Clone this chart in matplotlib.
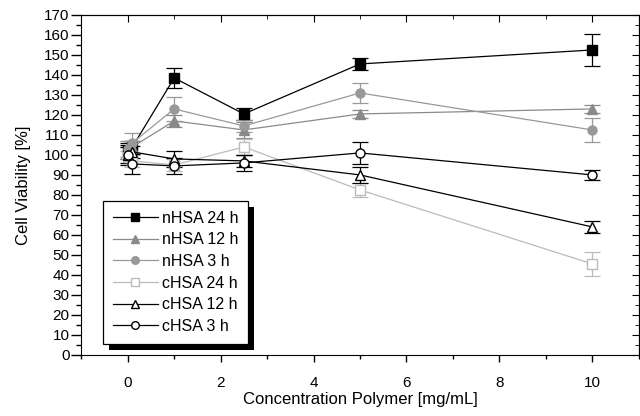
import matplotlib
matplotlib.use("Agg")
import matplotlib.pyplot as plt
from matplotlib.lines import Line2D
from matplotlib.patches import Rectangle
from matplotlib.ticker import MultipleLocator

plt.rcParams['font.family'] = ['Liberation Sans', 'DejaVu Sans']

conc = [0, 0.1, 1, 2.5, 5, 10]

nhsa_24 = [102, 104, 138.5, 120.5, 145.5, 152.5]
nhsa_24_err = [4, 3, 5, 3, 3, 8]
nhsa_12 = [101, 104, 117, 112.5, 120.5, 123]
nhsa_12_err = [3, 3, 3, 4, 2, 2]
nhsa_3 = [103, 106, 123, 114.5, 131, 112.5]
nhsa_3_err = [4, 5, 6, 3, 5, 6]
chsa_24 = [99, 97, 95, 104, 82.5, 45.5]
chsa_24_err = [3, 3, 3, 4, 3.5, 6]
chsa_12 = [100, 101.5, 98, 97, 90, 64]
chsa_12_err = [4, 3, 4, 3, 4, 3]
chsa_3 = [100, 95.5, 94.5, 96, 101, 90]
chsa_3_err = [5, 5, 4, 4, 5.5, 2.5]

series = [
    ('nHSA 24 h', nhsa_24, nhsa_24_err, 'black', 's', 'black'),
    ('nHSA 12 h', nhsa_12, nhsa_12_err, '#8a8a8a', '^', '#8a8a8a'),
    ('nHSA 3 h', nhsa_3, nhsa_3_err, '#999999', 'o', '#999999'),
    ('cHSA 24 h', chsa_24, chsa_24_err, '#bbbbbb', 's', 'white'),
    ('cHSA 12 h', chsa_12, chsa_12_err, 'black', '^', 'white'),
    ('cHSA 3 h', chsa_3, chsa_3_err, 'black', 'o', 'white'),
]

fig = plt.figure(figsize=(6.4, 4.16), dpi=100)
ax = fig.add_axes([0.127, 0.147, 0.871, 0.817])

handles = []
for label, y, err, color, marker, face in series:
    ax.errorbar(conc, y, yerr=err, color=color, marker=marker, markersize=6.5,
                markerfacecolor=face, markeredgecolor=color, linewidth=0.9,
                elinewidth=0.9, capsize=5.5, capthick=0.9)
    handles.append(Line2D([0], [0], color=color, marker=marker, markersize=5.5,
                          markerfacecolor=face, markeredgecolor=color,
                          linewidth=0.9, label=label))

ax.set_xlim(-1, 11)
ax.set_ylim(0, 170)
ax.xaxis.set_major_locator(MultipleLocator(2))
ax.xaxis.set_minor_locator(MultipleLocator(1))
ax.yaxis.set_major_locator(MultipleLocator(10))
ax.yaxis.set_minor_locator(MultipleLocator(5))

ax.tick_params(axis='x', which='both', direction='out', top=False, labelsize=11, pad=10)
ax.tick_params(axis='y', which='both', direction='out', right=False, labelsize=11, pad=1.5)
ax.tick_params(axis='x', which='major', length=5, width=1)
ax.tick_params(axis='x', which='minor', length=3, width=1)
ax.tick_params(axis='y', which='major', length=7, width=1)
ax.tick_params(axis='y', which='minor', length=3.5, width=1)

# inward ticks on the top and right spines
sec_x = ax.secondary_xaxis('top')
sec_x.xaxis.set_major_locator(MultipleLocator(2))
sec_x.xaxis.set_minor_locator(MultipleLocator(1))
sec_x.tick_params(which='both', direction='in', labeltop=False)
sec_x.tick_params(which='major', length=5)
sec_x.tick_params(which='minor', length=3)
sec_y = ax.secondary_yaxis('right')
sec_y.yaxis.set_major_locator(MultipleLocator(10))
sec_y.yaxis.set_minor_locator(MultipleLocator(5))
sec_y.tick_params(which='both', direction='in', labelright=False)
sec_y.tick_params(which='major', length=5)
sec_y.tick_params(which='minor', length=3)

ax.set_xlabel('Concentration Polymer [mg/mL]', fontsize=12, labelpad=2)
ax.set_ylabel('Cell Viability [%]', fontsize=12, labelpad=9)

leg = ax.legend(handles=handles, loc='lower left', bbox_to_anchor=(0.039, 0.032),
                borderaxespad=0, fancybox=False, frameon=True, edgecolor='black',
                framealpha=1, fontsize=11.5, handlelength=2.8, handletextpad=0.25,
                labelspacing=0.42, borderpad=0.62)
leg.get_frame().set_linewidth(0.9)
leg.set_zorder(10)

# solid drop shadow behind the legend box
fig.canvas.draw()
bb = leg.get_window_extent().transformed(fig.transFigure.inverted())
dx, dy = 6 / 640, -6 / 416
shadow = Rectangle((bb.x0 + dx, bb.y0 + dy), bb.width, bb.height,
                   transform=fig.transFigure, facecolor='black', edgecolor='none',
                   clip_on=False, zorder=9)
ax.add_patch(shadow)

fig.savefig('out.png', dpi=100)
